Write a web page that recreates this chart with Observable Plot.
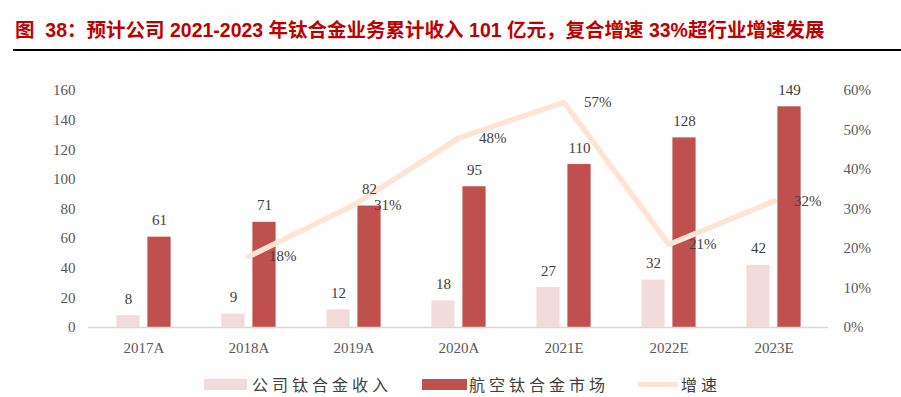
<!DOCTYPE html>
<html>
<head>
<meta charset="utf-8">
<script src="https://cdn.jsdelivr.net/npm/d3@7"></script>
<script src="https://cdn.jsdelivr.net/npm/@observablehq/plot@0.6"></script>
<style>
  html, body { margin: 0; padding: 0; background: #fff; }
  #wrap { position: relative; width: 901px; height: 397px; overflow: hidden; }
  #title { position: absolute; left: 15px; top: 18px; font-family: "Liberation Sans", "Noto Sans CJK SC", sans-serif; font-weight: bold; font-size: 19.5px; color: #c00000; white-space: nowrap; line-height: 24px; }
  #rule { position: absolute; left: 13px; right: 0; top: 49px; height: 2px; background: #000; }
  #chart { position: absolute; left: 0; top: 52px; }
  #legend { position: absolute; top: 373px; left: 0; width: 901px; height: 22px; font-family: "Noto Sans CJK SC", serif; font-size: 16px; color: #404040; letter-spacing: 4px; }
  .sw { position: absolute; }
  .lt { position: absolute; top: 0; line-height: 22px; white-space: nowrap; }
</style>
</head>
<body>
<div id="wrap">
  <div id="title">图&nbsp;&nbsp;38：预计公司 2021-2023 年钛合金业务累计收入 101 亿元，复合增速 33%超行业增速发展</div>
  <div id="rule"></div>
  <div id="chart"></div>
  <div id="legend">
    <div class="sw" style="left:204px;top:6px;width:43px;height:11px;background:#f2dcdb"></div>
    <div class="lt" style="left:252px">公司钛合金收入</div>
    <div class="sw" style="left:422px;top:6px;width:45px;height:11px;background:#c0504d"></div>
    <div class="lt" style="left:469px">航空钛合金市场</div>
    <div class="sw" style="left:638px;top:9px;width:40px;height:5px;background:#fde5d6"></div>
    <div class="lt" style="left:681px">增速</div>
  </div>
</div>
<script>
const years = ["2017A", "2018A", "2019A", "2020A", "2021E", "2022E", "2023E"];
const companyRevenue = [8, 9, 12, 18, 27, 32, 42];
const aviationMarket = [61, 71, 82, 95, 110, 128, 149];
const growth = [null, 18, 31, 48, 57, 21, 32];
const leftTicks = [0, 20, 40, 60, 80, 100, 120, 140, 160];
const rightTicks = [0, 10, 20, 30, 40, 50, 60];

const yMax = 160, pMax = 60;
const toY = p => p * yMax / pMax;

const rows = years.map((y, i) => ({ year: y, company: companyRevenue[i], market: aviationMarket[i], growth: growth[i] }));
const lineRows = rows.filter(d => d.growth != null);

const serif = "'Liberation Serif', 'Times New Roman', serif";

const chart = Plot.plot({
  width: 901,
  height: 313,
  marginLeft: 88,
  marginRight: 73,
  marginTop: 38,
  marginBottom: 38,
  style: { fontFamily: serif, fontSize: "15px", color: "#595959", background: "transparent" },
  x: { domain: years, padding: 0, axis: null },
  y: { domain: [0, yMax], axis: null },
  marks: [
    Plot.barY(rows, { x: "year", y: "company", fill: "#f2dcdb", insetLeft: 25.4, insetRight: 56.4 }),
    Plot.barY(rows, { x: "year", y: "market", fill: "#c0504d", insetLeft: 56.4, insetRight: 25.4 }),
    Plot.ruleY([0], { stroke: "#d9d9d9", strokeWidth: 1.5 }),
    Plot.axisX({ anchor: "bottom", tickSize: 0, tickPadding: 15, label: null, fontSize: 15, fill: "#595959" }),
    Plot.axisY({ anchor: "left", ticks: leftTicks, tickSize: 0, tickPadding: 13, label: null, fontSize: 15, fill: "#595959" }),
    Plot.axisY({ anchor: "right", ticks: rightTicks.map(toY), tickFormat: d => Math.round(d * pMax / yMax) + "%", tickSize: 0, tickPadding: 15, label: null, fontSize: 15, fill: "#595959" }),
    Plot.lineY(lineRows, { x: "year", y: d => toY(d.growth), stroke: "#fde5d6", strokeWidth: 5.5, strokeLinejoin: "miter" }),
    Plot.text(rows, { x: "year", y: "company", text: d => String(d.company), dx: -15.5, dy: -12, lineAnchor: "bottom", fill: "#404040", fontSize: 15 }),
    Plot.text(rows, { x: "year", y: "market", text: d => String(d.market), dx: 15.5, dy: -12, lineAnchor: "bottom", fill: "#404040", fontSize: 15 }),
    Plot.text(lineRows, { x: "year", y: d => toY(d.growth), text: d => d.growth + "%", dx: 20, textAnchor: "start", fill: "#404040", fontSize: 15 })
  ]
});
document.getElementById("chart").appendChild(chart);
</script>
</body>
</html>
